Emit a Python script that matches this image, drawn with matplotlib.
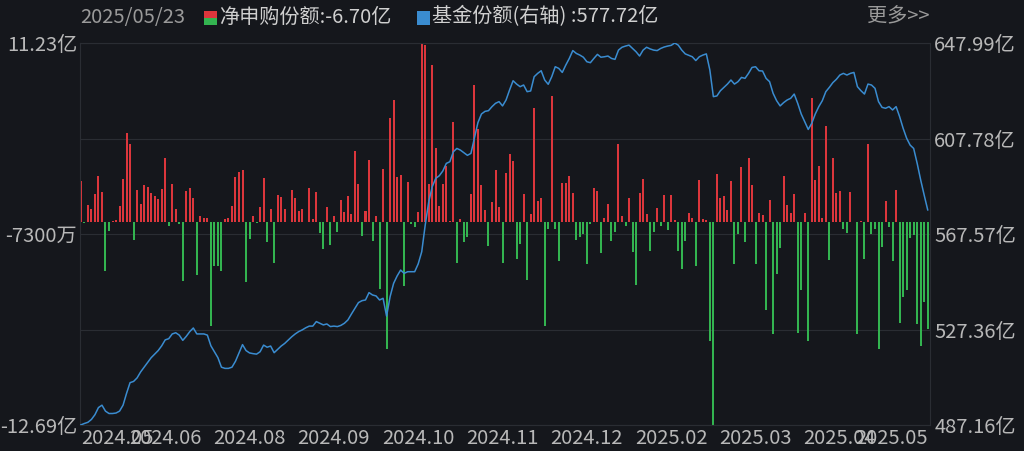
import matplotlib
matplotlib.use("Agg")
import matplotlib.pyplot as plt
from matplotlib.patches import Rectangle
import numpy as np

plt.rcParams['font.family'] = ['Noto Sans CJK SC', 'DejaVu Sans']

# ---- data ----
net_subscription = [  # 净申购份额 (亿)
    2.58, -0.05, 1.08, 0.85, 1.79, 2.88, 1.88, -3.06, -0.54, 0.1,
    0.15, 1.0, 2.73, 5.58, 4.9, -1.13, 2.0, 1.13, 2.31, 2.21,
    1.83, 1.63, 1.44, 2.06, 4.04, -0.25, 2.38, 0.83, -0.08, -3.69,
    1.96, 2.17, 1.52, -3.27, 0.38, 0.29, 0.29, -6.5, -2.75, -2.75,
    -3.04, 0.21, 0.25, 1.0, 2.83, 3.15, 3.25, -3.73, -1.04,
    0.38, -0.04, 0.96, 2.77, -1.23, 0.83, -2.54, 1.69, 1.58, 0.85,
    0.05, 2.0, 1.54, 0.73, 0.85, 0.05, 2.13, 0.19, 1.88, -0.67,
    -1.67, 0.96, -1.4, 0.4, -0.63, 1.38, 0.65, 1.67, 0.54, 4.46,
    2.38, -0.83, 0.71, 3.88, -1.19, 0.4, -4.15, 3.31, -7.9, 6.54,
    7.67, 2.83, 2.94, -4.0, 2.5, -0.08, -0.29, 0.63,
    11.23, 11.1, 2.38, 9.88, 4.67, 1.0, 2.42, 3.5, 0.1, 6.29,
    -2.54, 0.23, -1.23, -0.92, 1.75, 8.58, 5.83, 2.31, 0.79, -1.5,
    1.25, 3.25, 0.96, -2.54, 3.1, 4.29, 3.81, -2.27, -1.33, 1.79,
    -3.58, 0.5, 7.15, 1.35, 1.5, -6.5, -0.42, 7.88, -0.42, -2.42,
    2.48, 2.46, 2.88, 1.81, -1.08, -0.92, -0.75, -2.58,
    -0.12, 2.15, 1.96, -1.9, 0.27, 1.17, -1.19, -0.63, 4.88, 0.4,
    -0.21, 1.5, -1.88, -3.9, 1.83, 2.69, 0.54, -1.81, -0.63, 0.9,
    -0.25, 1.71, -0.5, 1.71, 0.17, -1.79, -2.92, -1.19, 0.6, 0.27,
    -2.71, 2.67, 0.19, 0.13, -7.44, -12.69, 3.04, 1.54, 1.65, 0.79,
    2.56, -2.58, -0.71, 3.46, -1.21, 4.04, 2.31, -2.63, 0.6,
    0.46, -5.5, 1.38, -7.0, -3.25, -1.58, 2.92, 1.08, 0.58, 1.79,
    -6.92, -4.25, 0.58, -7.42, 7.79, 2.67, 3.5, 0.25, 6.06, -2.38,
    4.0, 1.83, 1.96, -0.4, -0.67, 1.9, 0.05, -7.0, 0.08, -2.31,
    4.92, -0.75, -0.4, -7.96, -1.54, 1.31, -0.29, -2.42, 2.0, -6.29,
    -4.67, -4.25, -0.98, -0.81, -6.38, -7.75, -4.96, -6.70,
]

fund_shares = [  # 基金份额 (亿, 右轴)
    487.2, 487.8, 488.3, 489.5, 491.5, 494.5, 495.5, 493.0, 492.0, 492.0,
    492.2, 493.0, 495.5, 500.5, 505.0, 505.5, 507.0, 509.5, 511.5, 513.5,
    515.5, 517.0, 518.5, 520.5, 523.0, 523.5, 525.5, 526.0, 525.0, 522.8,
    524.5, 526.5, 528.0, 525.5, 525.5, 525.5, 525.0, 520.5, 518.0, 515.5,
    511.5, 511.0, 511.0, 511.5, 514.0, 517.5, 521.0, 518.5, 517.5,
    517.2, 517.0, 518.0, 520.8, 519.9, 520.4, 517.6, 519.0, 520.4, 521.5,
    522.9, 524.3, 525.5, 526.5, 527.2, 528.1, 528.8, 528.8, 530.7, 530.0,
    529.3, 529.7, 528.6, 528.8, 528.6, 529.1, 530.0, 531.4, 533.9, 536.3,
    538.7, 539.5, 539.8, 542.9, 541.9, 541.5, 539.8, 540.5, 533.0, 541.2,
    546.8, 549.9, 552.4, 551.0, 551.7, 551.7, 551.7, 555.0,
    560.1, 571.4, 581.2, 587.5, 591.0, 592.1, 594.1, 597.3, 598.0, 602.2,
    603.6, 602.9, 601.8, 600.7, 601.5, 607.9, 614.5, 618.1, 619.2, 619.5,
    621.2, 622.6, 623.3, 621.5, 624.0, 628.2, 632.1, 630.7, 629.6, 630.3,
    627.5, 627.8, 633.8, 635.2, 636.3, 632.4, 630.6, 633.8, 638.0, 637.3,
    635.6, 638.7, 641.5, 644.8, 643.6, 642.9, 642.0, 640.1,
    639.7, 641.5, 643.2, 642.0, 642.2, 642.5, 641.5, 641.1, 645.0, 646.2,
    646.7, 647.1, 645.7, 644.3, 642.5, 645.0, 646.2, 645.5, 645.0, 644.8,
    645.7, 646.3, 646.7, 647.0, 647.99, 647.1, 645.0, 643.4, 642.8, 642.2,
    640.6, 642.2, 642.9, 643.4, 636.6, 625.4, 625.7, 627.9, 629.3, 630.7,
    632.4, 630.7, 631.7, 633.5, 633.1, 635.2, 637.7, 638.0, 636.3,
    636.2, 633.1, 631.7, 626.8, 623.7, 621.5, 622.9, 624.0, 624.7, 626.5,
    622.6, 618.1, 614.9, 611.6, 614.2, 618.1, 621.2, 623.7, 627.5, 629.3,
    631.3, 632.7, 634.5, 635.2, 634.5, 635.2, 635.6, 629.6, 627.9, 626.5,
    630.7, 630.3, 628.9, 623.3, 620.9, 620.5, 621.2, 619.8, 621.2, 617.0,
    612.1, 607.9, 605.0, 603.6, 597.3, 590.3, 583.9, 577.72,
]

x_tick_idx = [0, 24, 48, 72, 96, 120, 144, 168, 192, 216, 241]
x_tick_labels = ["2024.05", "2024.06", "2024.08", "2024.09", "2024.10", "2024.11",
                 "2024.12", "2025.02", "2025.03", "2025.04", "2025.05"]

left_ticks = [11.23, 5.25, -0.73, -6.71, -12.69]
left_labels = ["11.23亿", "", "-7300万", "", "-12.69亿"]
right_ticks = [647.99, 607.78, 567.57, 527.36, 487.16]
right_labels = ["647.99亿", "607.78亿", "567.57亿", "527.36亿", "487.16亿"]

header_date = "2025/05/23"
header_net = "净申购份额:-6.70亿"
header_share = "基金份额(右轴) :577.72亿"
header_more = "更多>>"

# ---- style ----
BG = "#15171c"
GRID = "#2a2d33"
TXT = "#b8b8b8"
RED = "#dc363c"
GREEN = "#33b450"
BLUE = "#3a8cd0"
FS = 14.5

W, H = 1024, 451
fig = plt.figure(figsize=(W / 100, H / 100), dpi=100, facecolor=BG)
ax = fig.add_axes([80 / W, 1 - 425 / H, 850 / W, 382 / H])
ax.set_facecolor(BG)

n = len(net_subscription)
xs = np.arange(n)
vals = np.array(net_subscription)
colors = [RED if v >= 0 else GREEN for v in vals]
ax.bar(xs, vals, width=0.57, color=colors, linewidth=0, zorder=2, antialiased=False)

ax.set_xlim(-0.25, n - 0.35)
ax.set_ylim(left_ticks[-1], left_ticks[0])
ax.set_yticks(left_ticks)
ax.set_yticklabels(left_labels)
ax.grid(axis="y", color=GRID, linewidth=0.8, zorder=0)
ax.set_xticks(x_tick_idx)
ax.set_xticklabels(x_tick_labels)
ax.tick_params(axis="both", length=0, colors=TXT, labelsize=FS)
ax.tick_params(axis="y", pad=2)
ax.tick_params(axis="x", pad=2)
xl = ax.get_xticklabels()
xl[0].set_ha("left")
xl[-1].set_ha("right")
for s in ax.spines.values():
    s.set_color(GRID)
    s.set_linewidth(0.8)

ax2 = ax.twinx()
ax2.patch.set_visible(False)
ax2.plot(xs, fund_shares, color=BLUE, linewidth=1.1, zorder=3)
ax2.set_ylim(right_ticks[-1], right_ticks[0])
ax2.set_yticks(right_ticks)
ax2.set_yticklabels(right_labels)
ax2.tick_params(axis="y", length=0, colors=TXT, labelsize=FS, pad=3)
for s in ax2.spines.values():
    s.set_visible(False)

# ---- header ----
fy = 1 - 17 / H
fig.text(80 / W, fy, header_date, color="#9a9a9a", fontsize=FS, va="center", ha="left")
fig.patches.append(Rectangle((204 / W, 1 - 18 / H), 13 / W, 7 / H, transform=fig.transFigure,
                             facecolor=RED, edgecolor="none"))
fig.patches.append(Rectangle((204 / W, 1 - 25 / H), 13 / W, 7 / H, transform=fig.transFigure,
                             facecolor=GREEN, edgecolor="none"))
fig.text(219 / W, fy, header_net, color="#d0d0d0", fontsize=FS, va="center", ha="left")
fig.patches.append(Rectangle((417 / W, 1 - 25 / H), 13 / W, 14 / H, transform=fig.transFigure,
                             facecolor=BLUE, edgecolor="none"))
fig.text(432 / W, fy, header_share, color="#d0d0d0", fontsize=FS, va="center", ha="left")
fig.text(930 / W, fy, header_more, color="#9a9a9a", fontsize=FS, va="center", ha="right")

fig.savefig("out.png", dpi=100, facecolor=BG)
